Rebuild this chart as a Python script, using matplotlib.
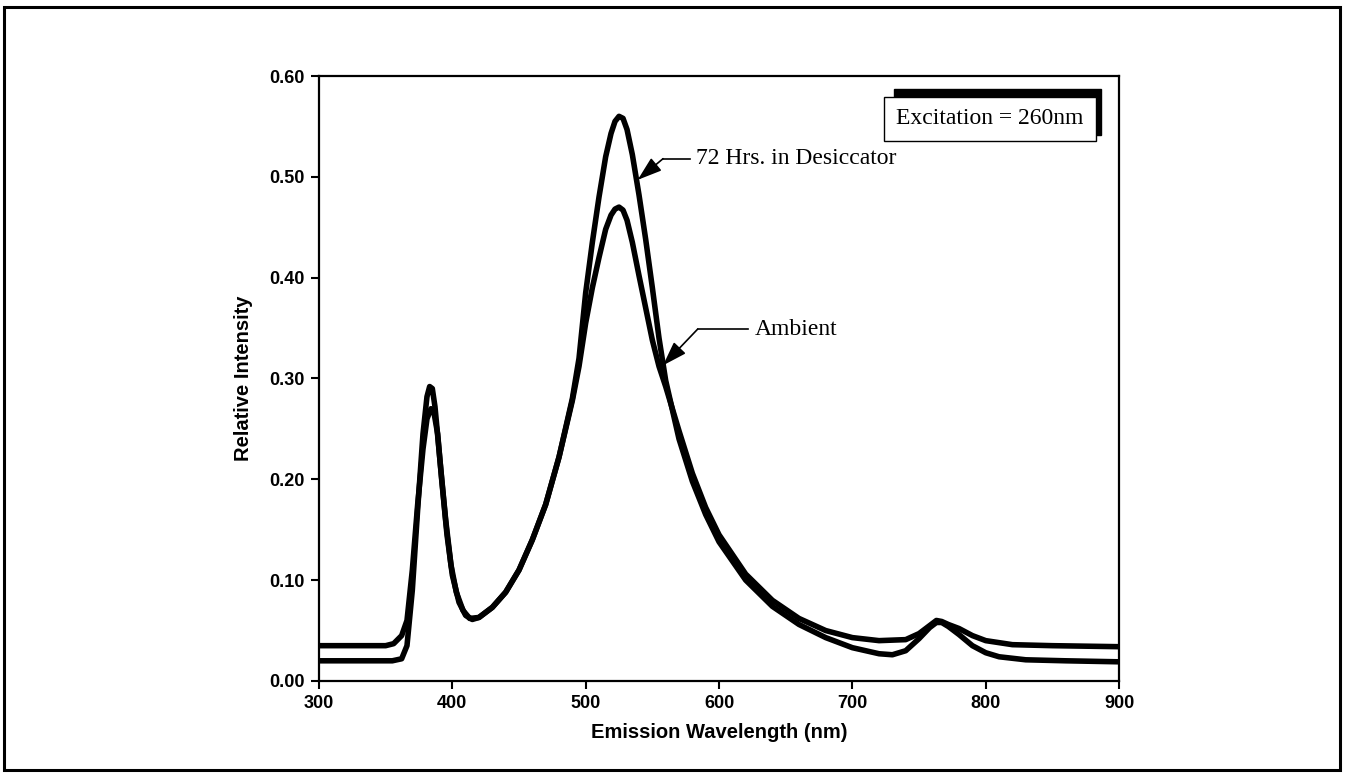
import matplotlib
matplotlib.use('Agg')
import matplotlib.pyplot as plt
from matplotlib.patches import Rectangle

# emission spectra
wl_desic = [300, 330, 355, 362, 366, 370, 374, 378, 381, 383, 385, 387, 391, 395, 399, 403,
            408, 413, 420, 430, 440, 450, 460, 470, 480, 490, 495, 500, 505, 510, 515,
            519, 522, 525, 528, 531, 535, 540, 545, 550, 555, 560, 570, 580, 590, 600, 620, 640,
            660, 680, 700, 720, 730, 740, 750, 758, 763, 767, 772, 780, 790, 800, 810, 830,
            860, 900]
int_desic = [0.020, 0.020, 0.020, 0.022, 0.035, 0.090, 0.170, 0.245, 0.282, 0.292, 0.290, 0.272, 0.215, 0.160, 0.115, 0.088,
             0.070, 0.062, 0.063, 0.073, 0.088, 0.110, 0.140, 0.175, 0.222, 0.280, 0.320, 0.385, 0.435, 0.480, 0.520,
             0.543, 0.555, 0.560, 0.558, 0.547, 0.522, 0.482, 0.438, 0.390, 0.340, 0.298, 0.240, 0.198, 0.165, 0.138, 0.100, 0.074,
             0.056, 0.043, 0.033, 0.027, 0.026, 0.030, 0.042, 0.053, 0.058, 0.058, 0.054, 0.046, 0.035, 0.028, 0.024, 0.021,
             0.020, 0.019]

wl_amb = [300, 330, 350, 356, 362, 366, 370, 374, 378, 381, 384, 386, 389, 392, 396, 400,
          405, 410, 415, 420, 430, 440, 450, 460, 470, 480, 490, 495, 500, 505, 510,
          515, 519, 522, 525, 528, 531, 535, 540, 545, 550, 555, 560, 570, 580, 590, 600, 620,
          640, 660, 680, 700, 720, 740, 750, 758, 763, 767, 772, 780, 790, 800, 820, 850,
          900]
int_amb = [0.035, 0.035, 0.035, 0.037, 0.045, 0.060, 0.110, 0.175, 0.230, 0.260, 0.270, 0.268, 0.245, 0.200, 0.145, 0.105,
           0.078, 0.065, 0.061, 0.063, 0.073, 0.088, 0.110, 0.140, 0.175, 0.222, 0.278, 0.312, 0.355, 0.390, 0.420,
           0.448, 0.462, 0.468, 0.470, 0.467, 0.457, 0.435, 0.402, 0.370, 0.338, 0.312, 0.292, 0.248, 0.206, 0.172, 0.145, 0.106,
           0.080, 0.062, 0.050, 0.043, 0.040, 0.041, 0.047, 0.055, 0.060, 0.059, 0.056, 0.052, 0.045, 0.040, 0.036, 0.035,
           0.034]

x_ticks = [300, 400, 500, 600, 700, 800, 900]
y_ticks = [0.00, 0.10, 0.20, 0.30, 0.40, 0.50, 0.60]

lab_desic = '72 Hrs. in Desiccator'
lab_amb = 'Ambient'
box_text = 'Excitation = 260nm'

# leader arrows: tip, knee, end of horizontal line
arr_desic = [(539, 0.497), (558, 0.518), (578, 0.518)]
arr_amb = [(558, 0.313), (584, 0.349), (622, 0.349)]

fig = plt.figure(figsize=(13.47, 7.74), dpi=100)
ax = fig.add_axes([0.2368, 0.1202, 0.594, 0.7816])

ax.plot(wl_amb, int_amb, color='black', lw=4, solid_joinstyle='round')
ax.plot(wl_desic, int_desic, color='black', lw=4, solid_joinstyle='round')

ax.set_xlim(300, 900)
ax.set_ylim(0, 0.6)
ax.set_xticks(x_ticks)
ax.set_yticks(y_ticks)
ax.set_yticklabels(['%.2f' % v for v in y_ticks])

tfont = dict(family='Liberation Sans', weight='bold', size=13)
for lbl in ax.get_xticklabels() + ax.get_yticklabels():
    lbl.set_fontproperties(matplotlib.font_manager.FontProperties(**tfont))
ax.tick_params(direction='out', length=6, width=1.5, pad=4, top=False, right=False)
for s in ax.spines.values():
    s.set_linewidth(1.6)

ax.set_xlabel('Emission Wavelength (nm)', family='Liberation Sans', weight='bold',
              size=14.5, labelpad=8)
ax.set_ylabel('Relative Intensity', family='Liberation Sans', weight='bold',
              size=14.5, labelpad=12)

# annotations
for arr, txt in [(arr_desic, lab_desic), (arr_amb, lab_amb)]:
    tip, knee, end = arr
    ax.annotate('', xy=tip, xytext=knee,
                arrowprops=dict(arrowstyle='-|>,head_length=0.75,head_width=0.25',
                                color='black', lw=1.2, mutation_scale=20,
                                shrinkA=0, shrinkB=0))
    ax.plot([knee[0], end[0]], [knee[1], knee[1]], color='black', lw=1.2)
    ax.text(end[0] + 5, knee[1], txt, family='Liberation Serif', size=17,
            va='center', ha='left')

# excitation box with dark offset shadow
ax.add_patch(Rectangle((0.719, 0.9025), 0.2585, 0.076, transform=ax.transAxes,
                       facecolor='black', edgecolor='black', zorder=5))
ax.add_patch(Rectangle((0.706, 0.893), 0.265, 0.072, transform=ax.transAxes,
                       facecolor='white', edgecolor='black', lw=1.0, zorder=6))
ax.text(0.8385, 0.929, box_text, transform=ax.transAxes, family='Liberation Serif',
        size=17, ha='center', va='center', zorder=7)

# outer frame round the whole figure
fig.patches.append(Rectangle((0.003, 0.005), 0.992, 0.986, transform=fig.transFigure,
                             fill=False, edgecolor='black', lw=2.2))

fig.savefig('out.png', dpi=100)
